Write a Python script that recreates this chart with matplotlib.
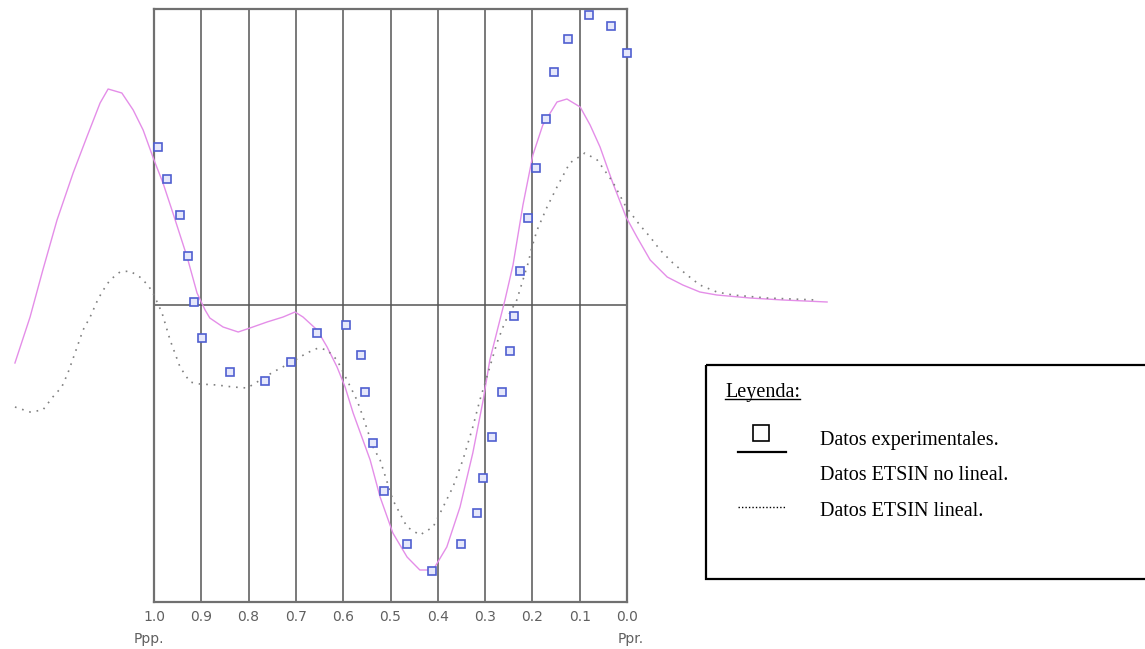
import matplotlib
matplotlib.use("Agg")
import matplotlib.pyplot as plt

# Datos experimentales (Ppp = 1.0 ... Ppr = 0.0)
exp_x = [0.991, 0.972, 0.944, 0.929, 0.915, 0.899, 0.839, 0.765, 0.710, 0.655,
         0.595, 0.563, 0.554, 0.538, 0.514, 0.466, 0.412, 0.351, 0.318, 0.305,
         0.285, 0.264, 0.248, 0.238, 0.226, 0.210, 0.192, 0.171, 0.154, 0.125,
         0.080, 0.034, 0.001]
exp_y = [1.58, 1.26, 0.90, 0.49, 0.03, -0.33, -0.67, -0.76, -0.57, -0.28,
         -0.20, -0.50, -0.87, -1.38, -1.86, -2.39, -2.66, -2.39, -2.08, -1.73,
         -1.32, -0.87, -0.46, -0.11, 0.34, 0.87, 1.37, 1.86, 2.33, 2.66,
         2.90, 2.79, 2.52]

# Datos ETSIN no lineal
nl_x = [1.294, 1.262, 1.235, 1.205, 1.171, 1.142, 1.114, 1.097, 1.068, 1.044,
        1.023, 1.000, 0.981, 0.960, 0.930, 0.909, 0.892, 0.882, 0.854, 0.822,
        0.797, 0.761, 0.727, 0.702, 0.685, 0.655, 0.634, 0.613, 0.596, 0.579,
        0.543, 0.522, 0.495, 0.465, 0.438, 0.410, 0.381, 0.353, 0.326, 0.304,
        0.290, 0.273, 0.258, 0.241, 0.220, 0.199, 0.178, 0.148, 0.127, 0.099,
        0.078, 0.057, 0.030, 0.002, -0.021, -0.049, -0.085, -0.118, -0.154, -0.190,
        -0.260, -0.330, -0.423]
nl_y = [-0.58, -0.12, 0.35, 0.85, 1.32, 1.68, 2.02, 2.16, 2.12, 1.95,
        1.75, 1.45, 1.22, 0.92, 0.48, 0.12, -0.05, -0.13, -0.22, -0.27,
        -0.23, -0.17, -0.12, -0.07, -0.12, -0.25, -0.42, -0.62, -0.82, -1.08,
        -1.55, -1.92, -2.28, -2.52, -2.65, -2.65, -2.42, -2.02, -1.48, -0.95,
        -0.55, -0.23, 0.05, 0.40, 1.00, 1.50, 1.80, 2.03, 2.06, 1.98,
        1.80, 1.58, 1.22, 0.88, 0.68, 0.45, 0.28, 0.20, 0.13, 0.10,
        0.07, 0.05, 0.03]

# Datos ETSIN lineal
lin_x = [1.294, 1.262, 1.235, 1.214, 1.195, 1.182, 1.167, 1.150, 1.135, 1.121,
         1.110, 1.093, 1.072, 1.051, 1.030, 1.013, 1.002, 0.983, 0.966, 0.945,
         0.924, 0.903, 0.867, 0.833, 0.803, 0.782, 0.748, 0.712, 0.677, 0.653,
         0.634, 0.613, 0.592, 0.571, 0.558, 0.537, 0.522, 0.495, 0.465, 0.438,
         0.410, 0.395, 0.368, 0.347, 0.326, 0.311, 0.290, 0.275, 0.258, 0.233,
         0.220, 0.209, 0.201, 0.190, 0.169, 0.148, 0.121, 0.089, 0.063, 0.030,
         0.002, -0.027, -0.049, -0.070, -0.097, -0.127, -0.154, -0.190, -0.224, -0.296,
         -0.402]
lin_y = [-1.02, -1.07, -1.05, -0.92, -0.82, -0.68, -0.48, -0.25, -0.12, 0.03,
         0.13, 0.25, 0.33, 0.34, 0.28, 0.20, 0.12, -0.08, -0.35, -0.62,
         -0.77, -0.79, -0.80, -0.82, -0.83, -0.77, -0.67, -0.58, -0.48, -0.43,
         -0.45, -0.55, -0.75, -0.95, -1.12, -1.42, -1.55, -1.95, -2.22, -2.30,
         -2.22, -2.08, -1.82, -1.55, -1.22, -0.95, -0.62, -0.38, -0.17, 0.05,
         0.25, 0.42, 0.58, 0.75, 0.98, 1.18, 1.42, 1.52, 1.45, 1.23,
         0.98, 0.80, 0.68, 0.55, 0.42, 0.30, 0.20, 0.13, 0.10, 0.07,
         0.05]

ticks = [1.0, 0.9, 0.8, 0.7, 0.6, 0.5, 0.4, 0.3, 0.2, 0.1, 0.0]
tick_labels = ["1.0", "0.9", "0.8", "0.7", "0.6", "0.5", "0.4", "0.3", "0.2", "0.1", "0.0"]
legend_title = "Leyenda:"
legend_labels = ["Datos experimentales.", "Datos ETSIN no lineal.", "Datos ETSIN lineal."]

W, H = 1145, 649
fig = plt.figure(figsize=(W / 100, H / 100), dpi=100)

# main plot area
ax = fig.add_axes([154 / W, 1 - 602 / H, 473 / W, 593 / H])
ax.set_xlim(1.0, 0.0)
ax.set_ylim(-2.97, 2.96)
for t in ticks[1:-1]:
    ax.axvline(t, color="#555555", lw=1.1, zorder=1)
ax.axhline(0, color="#555555", lw=1.1, zorder=1)
for s in ax.spines.values():
    s.set_color("#707070")
    s.set_linewidth(1.6)

ax.plot(nl_x, nl_y, color="#e48ee8", lw=1.0, clip_on=False, zorder=3)
ax.plot(lin_x, lin_y, color="#808080", lw=1.2, ls=(0, (1, 3.5)), clip_on=False, zorder=3)
ax.plot(exp_x, exp_y, ls="none", marker="s", ms=6.2, mfc="#e6e8fb", mec="#4f5fd0",
        mew=1.2, clip_on=False, zorder=4)

ax.set_xticks(ticks)
ax.set_xticklabels(tick_labels)
ax.set_yticks([])
ax.tick_params(axis="x", length=0, pad=6, labelsize=10, labelcolor="#606060")
ax.annotate("Ppp.", xy=(1.0, 0), xycoords=("data", "axes fraction"), xytext=(-5, -37),
            textcoords="offset pixels", ha="center", va="center", fontsize=10, color="#606060")
ax.annotate("Ppr.", xy=(0.0, 0), xycoords=("data", "axes fraction"), xytext=(4, -37),
            textcoords="offset pixels", ha="center", va="center", fontsize=10, color="#606060")

# hand drawn legend box, pixel coordinates
lax = fig.add_axes([0, 0, 1, 1])
lax.set_xlim(0, W)
lax.set_ylim(H, 0)
lax.axis("off")
lax.patch.set_alpha(0)
lax.add_patch(plt.Rectangle((706, 365), 470, 214, fill=False, ec="black", lw=1.6))
serif = ["Liberation Serif", "DejaVu Serif"]
title = lax.text(725, 392, legend_title, fontsize=14.5, family=serif, ha="left", va="center")
lax.plot(761, 433, marker="s", ms=11.5, mfc="white", mec="black", mew=1.2)
lax.plot([738, 786], [452, 452], color="black", lw=1.6)
lax.plot([738, 785], [507, 507], color="black", lw=1.0, ls=(0, (1, 1.5)))
for lbl, yy in zip(legend_labels, [440, 476, 512]):
    lax.text(820, yy, lbl, fontsize=14.5, family=serif, ha="left", va="center")

# underline the title
fig.canvas.draw()
bb = title.get_window_extent().transformed(lax.transData.inverted())
yb = max(bb.y0, bb.y1) - 3
lax.plot([bb.x0, bb.x1], [yb, yb], color="black", lw=1.0)

fig.savefig("out.png", dpi=100)
